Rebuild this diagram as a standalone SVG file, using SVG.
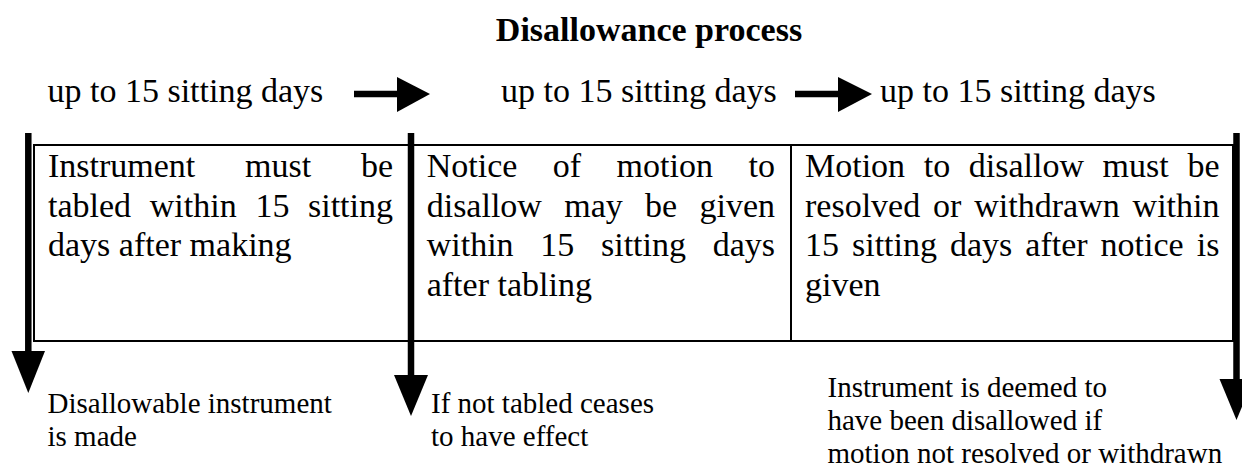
<svg xmlns="http://www.w3.org/2000/svg" width="1242" height="468" viewBox="0 0 1242 468">
<style>
text{font-family:"Liberation Serif","Times New Roman",serif;fill:#000}
.t{font-size:34px;font-weight:bold}
.h{font-size:34px}
.c{font-size:34px}
.l{font-size:29px}
.box{fill:none;stroke:#000;stroke-width:2}
.shaft{stroke:#000;stroke-width:6.5;fill:none}
.head{fill:#000}
</style>
<rect width="1242" height="468" fill="#fff"/>
<g id="title"><text class="t" x="649" y="41" text-anchor="middle">Disallowance process</text></g>
<g id="period1"><text class="h" x="47.5" y="102">up to 15 sitting days</text></g>
<g id="period2"><text class="h" x="501" y="102">up to 15 sitting days</text></g>
<g id="period3"><text class="h" x="880" y="102">up to 15 sitting days</text></g>
<g id="table">
<rect class="box" x="34" y="145" width="1199" height="196"/>
<line class="box" x1="791" y1="145" x2="791" y2="341"/>
</g>
<g id="cell1">
<text class="c" y="177"><tspan x="48">Instrument</tspan><tspan x="245">must</tspan><tspan x="361">be</tspan></text>
<text class="c" y="216.5"><tspan x="48">tabled</tspan><tspan x="149.8">within</tspan><tspan x="255.4">15</tspan><tspan x="308">sitting</tspan></text>
<text class="c" x="48" y="256">days after making</text>
</g>
<g id="cell2">
<text class="c" y="177"><tspan x="426.7">Notice</tspan><tspan x="552.8">of</tspan><tspan x="616.6">motion</tspan><tspan x="748.5">to</tspan></text>
<text class="c" y="216.5"><tspan x="426.7">disallow</tspan><tspan x="564.2">may</tspan><tspan x="645.1">be</tspan><tspan x="699.5">given</tspan></text>
<text class="c" y="256"><tspan x="426.7">within</tspan><tspan x="540.3">15</tspan><tspan x="601">sitting</tspan><tspan x="712.7">days</tspan></text>
<text class="c" x="426.7" y="295.5">after tabling</text>
</g>
<g id="cell3">
<text class="c" y="177"><tspan x="805">Motion</tspan><tspan x="923.7">to</tspan><tspan x="968.8">disallow</tspan><tspan x="1102.6">must</tspan><tspan x="1187.4">be</tspan></text>
<text class="c" y="216.5"><tspan x="805">resolved</tspan><tspan x="933.1">or</tspan><tspan x="974.3">withdrawn</tspan><tspan x="1132.6">within</tspan></text>
<text class="c" y="256"><tspan x="805">15</tspan><tspan x="852">sitting</tspan><tspan x="950">days</tspan><tspan x="1025.3">after</tspan><tspan x="1100.6">notice</tspan><tspan x="1196.8">is</tspan></text>
<text class="c" x="805" y="295.5">given</text>
</g>
<g id="label1"><text class="l" x="47.5" y="413">Disallowable instrument</text><text class="l" x="47.5" y="446">is made</text></g>
<g id="label2"><text class="l" x="431" y="413">If not tabled ceases</text><text class="l" x="431" y="446">to have effect</text></g>
<g id="label3"><text class="l" x="827.5" y="397">Instrument is deemed to</text><text class="l" x="827.5" y="430">have been disallowed if</text><text class="l" x="827.5" y="463">motion not resolved or withdrawn</text></g>
<g id="connectors">
<line class="shaft" x1="354" y1="94" x2="398" y2="94"/>
<polygon class="head" points="397,77 430,94 397,112"/>
<line class="shaft" x1="795" y1="94" x2="839" y2="94"/>
<polygon class="head" points="838,77 872,94 838,112"/>
<line class="shaft" x1="28.3" y1="133" x2="28.3" y2="352"/>
<polygon class="head" points="11.5,351 45,351 28.3,393"/>
<line class="shaft" x1="411" y1="133" x2="411" y2="376"/>
<polygon class="head" points="394,375 428,375 411,416"/>
<line class="shaft" x1="1236.5" y1="133" x2="1236.5" y2="380"/>
<polygon class="head" points="1219.5,379 1253.5,379 1236.5,420"/>
</g>
</svg>
